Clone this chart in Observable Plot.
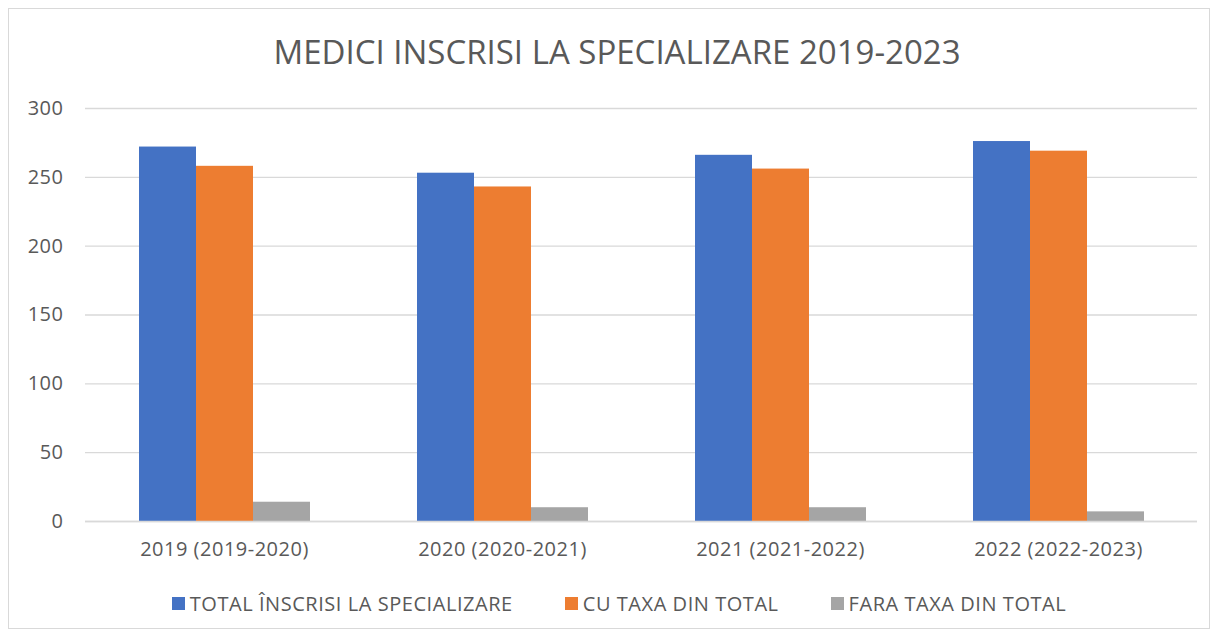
<!DOCTYPE html>
<html>
<head>
<meta charset="utf-8">
<script src="https://cdn.jsdelivr.net/npm/d3@7"></script>
<script src="https://cdn.jsdelivr.net/npm/@observablehq/plot@0.6"></script>
<style>
  html, body { margin: 0; padding: 0; background: #fff; }
  body { padding: 8px 0 0 8px; }
  #frame {
    width: 1200px; height: 619px; border: 1px solid #d9d9d9; box-sizing: content-box;
    font-family: "Open Sans", sans-serif; color: #595959; position: relative;
  }
  #title { height: 81px; line-height: 86px; text-align: center; font-size: 33px; color: #595959; padding-left: 16px; }
  #legend { display: flex; justify-content: center; gap: 52px; font-size: 20px; letter-spacing: 0.55px; margin-top: 20px; margin-left: 20px; }
  .item { display: flex; align-items: center; gap: 5px; }
  .sw { width: 13px; height: 13px; display: inline-block; }
  svg text { font-family: "Open Sans", sans-serif; letter-spacing: 0.5px; }
</style>
</head>
<body>
<div id="frame">
  <div id="title"></div>
  <div id="chart"></div>
  <div id="legend"></div>
</div>
<script>
const title = "MEDICI INSCRISI LA SPECIALIZARE 2019-2023";
const categories = ["2019 (2019-2020)", "2020 (2020-2021)", "2021 (2021-2022)", "2022 (2022-2023)"];
const series = ["TOTAL ÎNSCRISI LA SPECIALIZARE", "CU TAXA DIN TOTAL", "FARA TAXA DIN TOTAL"];
const totalInscrisi = [272, 253, 266, 276];
const cuTaxa = [258, 243, 256, 269];
const faraTaxa = [14, 10, 10, 7];
const yTicks = [0, 50, 100, 150, 200, 250, 300];
const colors = ["#4472C4", "#ED7D31", "#A5A5A5"];

const seriesValues = [totalInscrisi, cuTaxa, faraTaxa];
const data = [];
categories.forEach((c, i) => {
  series.forEach((s, j) => data.push({category: c, series: s, value: seriesValues[j][i]}));
});

document.getElementById("title").textContent = title;

const chart = Plot.plot({
  width: 1200,
  height: 480,
  marginLeft: 76,
  marginRight: 12,
  marginTop: 18,
  marginBottom: 49,
  style: {fontFamily: "Open Sans, sans-serif", fontSize: "20px", color: "#595959", background: "#fff"},
  fx: {domain: categories, padding: 0, label: null, axis: "bottom", tickSize: 0, tickPadding: 20, fontSize: 20},
  x: {domain: series, paddingInner: 0, paddingOuter: 0.9, axis: null},
  y: {domain: [0, 300], ticks: yTicks, label: null, tickSize: 0, tickPadding: 22, fontSize: 20},
  color: {domain: series, range: colors},
  marks: [
    Plot.gridY(yTicks, {stroke: "#d9d9d9", strokeOpacity: 1, strokeWidth: 1.3}),
    Plot.barY(data, {fx: "category", x: "series", y: "value", fill: "series"}),
    Plot.ruleY([0], {stroke: "#d9d9d9", strokeWidth: 1.6})
  ]
});
document.getElementById("chart").appendChild(chart);

const legend = document.getElementById("legend");
series.forEach((s, j) => {
  const it = document.createElement("div");
  it.className = "item";
  const sw = document.createElement("span");
  sw.className = "sw";
  sw.style.background = colors[j];
  const t = document.createElement("span");
  t.textContent = s;
  it.appendChild(sw); it.appendChild(t);
  legend.appendChild(it);
});
</script>
</body>
</html>
